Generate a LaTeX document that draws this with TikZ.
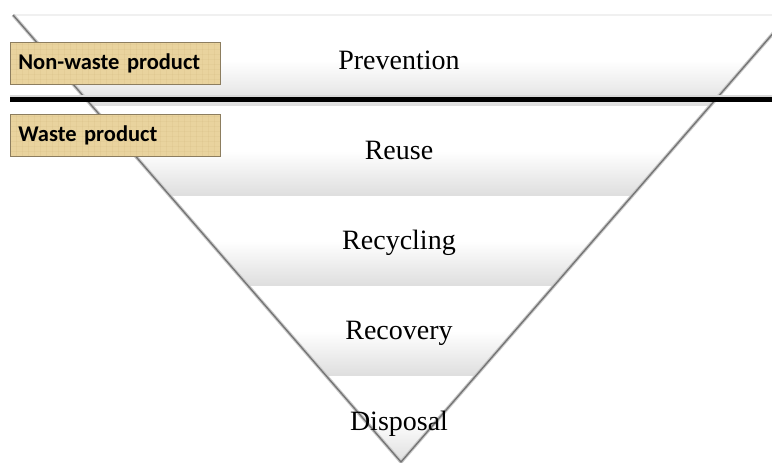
\documentclass[tikz,border=0pt]{standalone}
\usepackage{fontspec}
\setmainfont{Liberation Serif}
\newfontfamily\tagfont{Carlito}[BoldFont={Carlito Bold}]
\definecolor{bandgray}{RGB}{222,222,222}
\definecolor{tagfill}{RGB}{233,211,158}
\definecolor{tagfiber}{RGB}{200,172,112}
\definecolor{tagborder}{RGB}{140,125,95}
\definecolor{edgegray}{RGB}{115,115,115}
\definecolor{edgesoft}{RGB}{200,200,200}
\begin{document}
\begin{tikzpicture}[x=1pt,y=-1pt,
  band/.style={top color=white, bottom color=bandgray, middle color=white, draw=none},
  level/.style={font=\fontsize{28}{32}\selectfont, anchor=base, inner sep=0pt},
  fibers/.style={path picture={
      \foreach \i in {0,6,...,215}{
        \draw[tagfiber, opacity=0.14, line width=0.8pt] ([xshift=\i pt]path picture bounding box.north west) -- ([xshift=\i pt]path picture bounding box.south west);
      }
      \foreach \j in {2,7,...,44}{
        \draw[tagfiber, opacity=0.12, line width=0.8pt] ([yshift=-\j pt]path picture bounding box.north west) -- ([yshift=-\j pt]path picture bounding box.north east);
      }
  }},
  tagbox/.style={draw=tagborder, line width=0.8pt, fill=tagfill, fibers, anchor=north west,
    minimum height=42pt, text width=194pt, inner xsep=8pt, inner ysep=0pt, align=left,
    font=\tagfont\bfseries\fontsize{22.5}{24}\selectfont},
  edge/.style={draw=edgegray, line width=1.3pt},
  edgeshadow/.style={draw=edgesoft, line width=3.5pt},
  divider/.style={draw=black, line width=5pt}
]
\useasboundingbox (0,0) rectangle (772,463);
\begin{scope}
\clip (0,0) rectangle (772,463);
% triangle corners
\coordinate (TL) at (13,15);
\coordinate (TR) at (789,15);
\coordinate (AP) at (401,462);
% bands
\begin{scope}
  \clip (TL) -- (TR) -- (AP) -- cycle;
  \fill[band] (0,15) rectangle (800,106);
  \fill[band] (0,106) rectangle (800,196);
  \fill[band] (0,196) rectangle (800,286);
  \fill[band] (0,286) rectangle (800,376);
  \fill[band] (0,376) rectangle (800,463);
\end{scope}
% top edge
\draw[draw=gray!12, line width=2pt] (TL) -- (TR);
% side edges
\draw[edgeshadow] (TL) -- (AP) -- (TR);
\draw[edge] (TL) -- (AP) -- (TR);
% divider
\coordinate (DL) at (10,99.5);
\coordinate (DR) at (780,99.5);
\draw[draw=gray!30, line width=2pt] ([yshift=4pt]DL) -- ([yshift=4pt]DR);
\draw[divider] (DL) -- (DR);
% level labels
\node[level] (prev)  at (399,69)  {Prevention};
\node[level] (reuse) at (399,159) {Reuse};
\node[level] (recy)  at (399,249) {Recycling};
\node[level] (reco)  at (399,339) {Recovery};
\node[level] (disp)  at (399,430) {Disposal};
% tags
\node[tagbox] (nonwaste) at (10,42) {Non-waste product};
\node[tagbox] (waste) at (10,113.5) {Waste product};
\end{scope}
\end{tikzpicture}
\end{document}
